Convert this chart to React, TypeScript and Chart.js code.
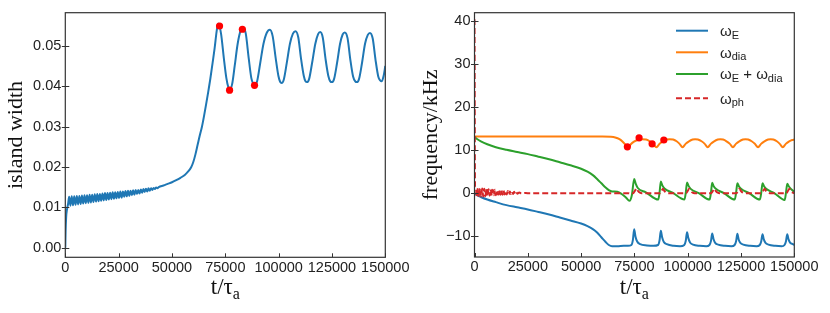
import React, { useEffect, useRef } from "react";
import { Chart, registerables } from "chart.js";

Chart.register(...registerables);

// ---------- axis ticks ----------
const X_TICKS = [0, 25000, 50000, 75000, 100000, 125000, 150000];
const WIDTH_TICKS = [0, 0.01, 0.02, 0.03, 0.04, 0.05];
const FREQ_TICKS = [-10, 0, 10, 20, 30, 40];

// ---------- left panel: island width ----------
const T_WIDTH = [
  0, 150, 400, 800, 1300,
  1800, 2400, 3000, 3600, 4200, 4800, 5400, 6000, 6600, 7200, 7800, 8400, 9000, 9600,
  10200, 10800, 11400, 12000, 12600, 13200, 13800, 14400, 15000, 15600, 16200, 16800,
  17400, 18000, 18600, 19200, 19800, 20400, 21000, 21600, 22200, 22800, 23400, 24000,
  24600, 25200, 25800, 26400, 27000, 27600, 28200, 28800, 29400, 30000, 30600, 31200,
  31800, 32400, 33000, 33600, 34200, 34800, 35400, 36000, 36600, 37200, 37800, 38400,
  39000, 39600, 40200, 40800, 41400, 42000, 42600, 43200, 43800,
  46000, 48000, 50000, 52000, 54000, 56000, 57500, 59000, 60000, 61000, 62000, 63000,
  64000, 65000, 66000, 67000, 68000, 69000, 70000, 71000, 71700,
  73000, 74300, 75500, 76400, 77200, 78200, 79400, 80800, 82200, 83400,
  84600, 86000, 87200, 88100, 88900, 89900, 91300, 92900, 94500, 95900,
  97200, 98600, 99900, 100700, 101400, 102400, 103800, 105300, 106700, 107900,
  109200, 110500, 111800, 112600, 113300, 114300, 115700, 117200, 118500, 119500,
  120700, 122000, 123300, 124200, 125000, 126000, 127400, 128800, 130000, 131000,
  132300, 133600, 134900, 135900, 136700, 137700, 139100, 140500, 141800, 142800,
  144100, 145400, 146700, 147600, 148300, 149200, 150000,
];
const WIDTH = [
  0.0, 0.004, 0.0075, 0.0095, 0.0108,
  0.0126, 0.0104, 0.0127, 0.0105, 0.0127, 0.0106, 0.0128, 0.0107, 0.0128, 0.0108, 0.0129, 0.0109, 0.0130, 0.0110,
  0.0130, 0.0111, 0.0131, 0.0112, 0.0131, 0.0113, 0.0132, 0.0114, 0.0133, 0.0115, 0.0133, 0.0116,
  0.0134, 0.0117, 0.0135, 0.0118, 0.0135, 0.0119, 0.0136, 0.0120, 0.0137, 0.0121, 0.0137, 0.0122,
  0.0138, 0.0123, 0.0139, 0.0124, 0.0139, 0.0126, 0.0140, 0.0127, 0.0141, 0.0128, 0.0141, 0.0130,
  0.0142, 0.0131, 0.0143, 0.0133, 0.0143, 0.0134, 0.0144, 0.0136, 0.0145, 0.0138, 0.0146, 0.0139,
  0.0147, 0.0141, 0.0147, 0.0143, 0.0148, 0.0145, 0.0149, 0.0147, 0.0150,
  0.0154, 0.0158, 0.0162, 0.0167, 0.0173, 0.0180, 0.0188, 0.0199, 0.0212, 0.0231, 0.0254, 0.0277,
  0.0298, 0.0325, 0.0355, 0.0386, 0.0419, 0.0456, 0.0494, 0.0538, 0.0555,
  0.0530, 0.0470, 0.0420, 0.0398, 0.0392, 0.0405, 0.0450, 0.0505, 0.0538, 0.0545,
  0.0530, 0.0468, 0.0420, 0.0406, 0.0403, 0.0412, 0.0455, 0.0505, 0.0533, 0.0540,
  0.0524, 0.0470, 0.0425, 0.0411, 0.0408, 0.0416, 0.0457, 0.0505, 0.0530, 0.0536,
  0.0521, 0.0468, 0.0425, 0.0412, 0.0410, 0.0418, 0.0458, 0.0505, 0.0529, 0.0534,
  0.0520, 0.0467, 0.0425, 0.0412, 0.0410, 0.0418, 0.0458, 0.0505, 0.0528, 0.0533,
  0.0519, 0.0466, 0.0424, 0.0412, 0.0410, 0.0418, 0.0458, 0.0505, 0.0527, 0.0532,
  0.0518, 0.0466, 0.0424, 0.0414, 0.0412, 0.0425, 0.0450,
];
const T_WIDTH_DOTS = [72300, 77000, 83000, 88700];
const WIDTH_DOTS = [0.0549, 0.039, 0.0541, 0.0402];

// ---------- right panel: frequencies (kHz) ----------
const T_OMEGA_E = [
  0, 1000, 3000, 6000, 10000, 15000, 20000, 25000, 30000, 35000, 40000, 45000, 50000,
  53000, 55500, 57500, 59500, 61500, 63000, 64500, 67000, 70000, 72000,
  73600, 74300, 74900, 75500, 76300, 77700, 80900, 83900,
  86100, 86800, 87400, 88000, 88800, 90200, 93400, 96400,
  98400, 99100, 99700, 100300, 101100, 102500, 105700, 108700,
  110200, 110900, 111500, 112100, 112900, 114300, 117500, 120500,
  122000, 122700, 123300, 123900, 124700, 126100, 129300, 132300,
  133800, 134500, 135100, 135700, 136500, 137900, 141100, 144100,
  145400, 146100, 146700, 147300, 148100, 149300, 150000,
];
const OMEGA_E = [
  -0.1, -0.5, -1.0, -1.6, -2.2, -2.9, -3.4, -3.9, -4.5, -5.1, -5.8, -6.5, -7.2,
  -7.8, -8.5, -9.3, -10.4, -11.5, -12.2, -12.5, -12.5, -12.4, -12.4,
  -12.2, -11.0, -8.5, -10.2, -11.4, -12.0, -12.3, -12.4,
  -12.2, -11.1, -8.9, -10.4, -11.5, -12.0, -12.4, -12.5,
  -12.2, -11.2, -9.2, -10.6, -11.6, -12.1, -12.4, -12.5,
  -12.2, -11.3, -9.5, -10.8, -11.7, -12.1, -12.4, -12.5,
  -12.2, -11.3, -9.6, -10.9, -11.7, -12.1, -12.4, -12.5,
  -12.2, -11.3, -9.7, -10.9, -11.7, -12.1, -12.4, -12.5,
  -12.2, -11.3, -9.7, -10.9, -11.7, -12.0, -12.2,
];

const T_OMEGA_DIA = [
  0, 60000, 64000, 66000, 68000, 69500, 70800, 72000, 73300, 74800, 76500, 78500,
  80500, 82200, 83800, 85300, 86800, 88400, 90200, 91500, 93200, 94800, 96200,
  97600, 99000, 100600, 102300, 103500, 104800, 106500, 108000, 109400, 110800,
  112400, 114100, 115300, 116600, 118200, 119800, 121200, 122600, 124200, 125900,
  127100, 128400, 130000, 131500, 133000, 134400, 136000, 137700, 138900, 140200,
  141800, 143200, 144600, 146000, 147600, 149000, 150000,
];
const OMEGA_DIA = [
  13.1, 13.1, 13.05, 12.9, 12.5, 11.9, 11.2, 10.5, 11.3, 11.9, 12.3, 12.5,
  12.4, 12.0, 11.4, 10.6, 11.4, 12.0, 12.4, 12.5, 12.4, 12.0, 11.4,
  10.6, 11.4, 12.0, 12.4, 12.5, 12.4, 12.0, 11.4, 10.6, 11.4,
  12.0, 12.4, 12.5, 12.4, 12.0, 11.4, 10.6, 11.4, 12.0, 12.4,
  12.5, 12.4, 12.0, 11.4, 10.6, 11.4, 12.0, 12.4, 12.5, 12.4,
  12.0, 11.4, 10.6, 11.4, 12.0, 12.3, 12.4,
];

const T_OMEGA_SUM = [
  0, 1000, 3000, 6000, 10000, 15000, 20000, 25000, 30000, 35000, 40000, 45000, 50000,
  53000, 55500, 57500, 59500, 61500, 63000, 64500, 67000, 69000, 71000,
  72700, 73800, 74900, 75600, 76600, 80400, 86200,
  86800, 87400, 88100, 89100, 92900, 98500,
  99100, 99700, 100400, 101400, 105200, 110300,
  110900, 111500, 112200, 113200, 117000, 122100,
  122700, 123300, 124000, 125000, 128800, 133900,
  134500, 135100, 135800, 136800, 140600, 145500,
  146100, 146700, 147400, 148400, 150000,
];
const OMEGA_SUM = [
  13.0, 12.6, 12.0, 11.3, 10.6, 10.0, 9.5, 9.0, 8.4, 7.8, 7.1, 6.4, 5.6,
  4.9, 4.1, 3.2, 2.2, 1.2, 0.6, 0.3, 0.2, -0.3, -1.1,
  -1.9, -0.6, 3.2, 2.1, 1.1, 0.1, -1.6,
  0.0, 2.6, 1.7, 1.0, 0.0, -1.6,
  0.0, 2.4, 1.6, 0.9, -0.1, -1.6,
  0.0, 2.3, 1.5, 0.9, -0.1, -1.6,
  0.0, 2.2, 1.5, 0.9, -0.1, -1.6,
  0.0, 2.2, 1.5, 0.9, -0.1, -1.7,
  0.0, 2.1, 1.5, 0.9, 0.2,
];

const T_OMEGA_PH = [
  0, 250,
  600, 1100, 1600, 2100, 2600, 3100, 3600, 4100, 4600, 5100, 5600, 6100, 6600, 7100,
  7600, 8100, 8600, 9100, 9600, 10100, 10600, 11100, 11600, 12100, 12600, 13100,
  13600, 14100, 14600, 15100, 15600, 16100, 16600, 17100, 17600, 18100, 18600, 19100,
  19600, 20100, 21000, 22000, 24000, 26000, 30000, 72000,
  73000, 74500, 75300, 76000, 76700, 77600, 78500,
  87000, 87700, 88400, 89100, 90000, 90900,
  99300, 100000, 100700, 101400, 102300, 103200,
  111100, 111800, 112500, 113200, 114100, 115000,
  122900, 123600, 124300, 125000, 125900, 126800,
  134700, 135400, 136100, 136800, 137700, 138600,
  146300, 147000, 147700, 148400, 149300, 150000,
];
const OMEGA_PH = [
  40.5, 1.5,
  1.3, -0.9, 1.1, -1.0, 1.0, -0.9, 1.0, -0.9, 0.9, -0.8, 0.9, -0.8, 0.8, -0.7,
  0.8, -0.7, 0.7, -0.6, 0.7, -0.6, 0.6, -0.5, 0.6, -0.5, 0.5, -0.5,
  0.5, -0.4, 0.4, -0.4, 0.4, -0.35, 0.3, -0.3, 0.25, -0.3, 0.2, -0.25,
  0.15, -0.25, 0.05, -0.15, -0.05, -0.15, -0.1, -0.1,
  -0.25, -0.1, 0.5, 1.0, 0.4, 0.0, -0.1,
  -0.1, 0.4, 0.9, 0.4, 0.0, -0.1,
  -0.1, 0.4, 0.9, 0.4, 0.0, -0.1,
  -0.1, 0.4, 0.9, 0.4, 0.0, -0.1,
  -0.1, 0.4, 0.9, 0.4, 0.0, -0.1,
  -0.1, 0.4, 0.9, 0.4, 0.0, -0.1,
  -0.1, 0.4, 0.9, 0.4, 0.0, -0.1,
];

const T_FREQ_DOTS = [71700, 77200, 83300, 88800];
const FREQ_DOTS = [10.7, 12.8, 11.4, 12.3];

// ---------- styling ----------
const SANS = "'Liberation Sans', Arial, sans-serif";
const SERIF = "'Liberation Serif', 'Times New Roman', serif";
const TEXT = "#222222";
const AXIS = "#333333";
const BLUE = "#1f77b4";
const ORANGE = "#ff7f0e";
const GREEN = "#2ca02c";
const RED = "#d62728";
const DOT = "#ff0000";

type Part = { t: string; sub?: boolean };

function zip(xs: number[], ys: number[]) {
  return xs.map((x, i) => ({ x, y: ys[i] }));
}

function drawRich(
  ctx: CanvasRenderingContext2D,
  parts: Part[],
  x: number,
  y: number,
  size: number,
  subSize: number,
  family: string,
  align: "left" | "center",
  subDrop: number
) {
  const fonts = parts.map((p) => `${p.sub ? subSize : size}px ${family}`);
  const widths = parts.map((p, i) => {
    ctx.font = fonts[i];
    return ctx.measureText(p.t).width;
  });
  const total = widths.reduce((a, b) => a + b, 0);
  let cx = align === "center" ? x - total / 2 : x;
  ctx.textAlign = "left";
  ctx.textBaseline = "alphabetic";
  parts.forEach((p, i) => {
    ctx.font = fonts[i];
    ctx.fillText(p.t, cx, p.sub ? y + subDrop : y);
    cx += widths[i];
  });
}

type LegendItem = { color: string; dash: number[]; parts: Part[]; y: number };

const LEGEND: LegendItem[] = [
  { color: BLUE, dash: [], parts: [{ t: "ω" }, { t: "E", sub: true }], y: 30.7 },
  { color: ORANGE, dash: [], parts: [{ t: "ω" }, { t: "dia", sub: true }], y: 52.3 },
  {
    color: GREEN,
    dash: [],
    parts: [{ t: "ω" }, { t: "E", sub: true }, { t: " + ω" }, { t: "dia", sub: true }],
    y: 74,
  },
  { color: RED, dash: [6, 3], parts: [{ t: "ω" }, { t: "ph", sub: true }], y: 98.3 },
];

function framePlugin(yTitle: string, withLegend: boolean) {
  return {
    id: "frame",
    afterDraw(chart: any) {
      const { ctx, chartArea: a, scales } = chart;
      ctx.save();
      ctx.strokeStyle = AXIS;
      ctx.lineWidth = 1.2;
      ctx.setLineDash([]);
      ctx.strokeRect(a.left, a.top, a.right - a.left, a.bottom - a.top);
      ctx.lineWidth = 1;
      ctx.beginPath();
      for (const t of scales.x.ticks) {
        const px = Math.round(scales.x.getPixelForValue(t.value)) + 0.5;
        ctx.moveTo(px, a.bottom);
        ctx.lineTo(px, a.bottom - 4);
      }
      for (const t of scales.y.ticks) {
        const py = Math.round(scales.y.getPixelForValue(t.value)) + 0.5;
        ctx.moveTo(a.left - 3.5, py);
        ctx.lineTo(a.left + 4, py);
      }
      ctx.stroke();

      // axis titles
      ctx.fillStyle = "#111111";
      drawRich(
        ctx,
        [{ t: "t/τ" }, { t: "a", sub: true }],
        (a.left + a.right) / 2,
        294,
        23,
        16,
        SERIF,
        "center",
        5
      );
      ctx.save();
      ctx.translate(16.5, (a.top + a.bottom) / 2);
      ctx.rotate(-Math.PI / 2);
      ctx.font = `22px ${SERIF}`;
      ctx.textAlign = "center";
      ctx.textBaseline = "middle";
      ctx.fillText(yTitle, 0, 0);
      ctx.restore();

      if (withLegend) {
        for (const item of LEGEND) {
          ctx.strokeStyle = item.color;
          ctx.lineWidth = 2;
          ctx.setLineDash(item.dash);
          ctx.beginPath();
          ctx.moveTo(261, item.y);
          ctx.lineTo(293, item.y);
          ctx.stroke();
          ctx.setLineDash([]);
          ctx.fillStyle = TEXT;
          drawRich(ctx, item.parts, 305, item.y + 5.3, 15, 11, SANS, "left", 2.5);
        }
      }
      ctx.restore();
    },
  };
}

function xScale(height: number) {
  return {
    type: "linear",
    min: 0,
    max: 150000,
    grid: { display: false, drawTicks: false },
    border: { display: false },
    afterBuildTicks: (s: any) => {
      s.ticks = X_TICKS.map((v) => ({ value: v }));
    },
    afterFit: (s: any) => {
      s.height = height;
    },
    ticks: {
      autoSkip: false,
      maxRotation: 0,
      minRotation: 0,
      padding: 1.5,
      color: TEXT,
      font: { family: SANS, size: 14.5 },
      callback: (v: any) => String(v),
    },
  };
}

function yScale(
  min: number,
  max: number,
  ticks: number[],
  width: number,
  fmt: (v: number) => string
) {
  return {
    type: "linear",
    min,
    max,
    grid: { display: false, drawTicks: false },
    border: { display: false },
    afterBuildTicks: (s: any) => {
      s.ticks = ticks.map((v) => ({ value: v }));
    },
    afterFit: (s: any) => {
      s.width = width;
    },
    ticks: {
      padding: 4,
      color: TEXT,
      font: { family: SANS, size: 14.5 },
      callback: (v: any) => fmt(Number(v)),
    },
  };
}

function lineDs(xs: number[], ys: number[], color: string, dash: number[] = []) {
  return {
    type: "line",
    data: zip(xs, ys),
    borderColor: color,
    backgroundColor: color,
    borderWidth: 2,
    borderDash: dash,
    pointRadius: 0,
    fill: false,
    cubicInterpolationMode: "monotone",
  };
}

function dotDs(xs: number[], ys: number[]) {
  return {
    type: "scatter",
    data: zip(xs, ys),
    pointRadius: 3.6,
    backgroundColor: DOT,
    borderWidth: 0,
    showLine: false,
  };
}

export default function App() {
  const leftRef = useRef<HTMLCanvasElement>(null);
  const rightRef = useRef<HTMLCanvasElement>(null);

  useEffect(() => {
    const left = new Chart(leftRef.current as HTMLCanvasElement, {
      type: "line",
      data: {
        datasets: [dotDs(T_WIDTH_DOTS, WIDTH_DOTS), lineDs(T_WIDTH, WIDTH, BLUE)] as any,
      },
      options: {
        animation: false,
        responsive: false,
        events: [],
        layout: { padding: { top: 11.3, right: 29.7, left: 0, bottom: 0 } },
        plugins: { legend: { display: false }, tooltip: { enabled: false } },
        scales: {
          x: xScale(55.7) as any,
          y: yScale(-0.0024, 0.0582, WIDTH_TICKS, 65.3, (v) => v.toFixed(2)) as any,
        },
      },
      plugins: [framePlugin("island width", false)],
    });

    const right = new Chart(rightRef.current as HTMLCanvasElement, {
      type: "line",
      data: {
        datasets: [
          dotDs(T_FREQ_DOTS, FREQ_DOTS),
          lineDs(T_OMEGA_PH, OMEGA_PH, RED, [6, 3]),
          lineDs(T_OMEGA_SUM, OMEGA_SUM, GREEN),
          lineDs(T_OMEGA_DIA, OMEGA_DIA, ORANGE),
          lineDs(T_OMEGA_E, OMEGA_E, BLUE),
        ] as any,
      },
      options: {
        animation: false,
        responsive: false,
        events: [],
        layout: { padding: { top: 11, right: 35.7, left: 0, bottom: 0 } },
        plugins: { legend: { display: false }, tooltip: { enabled: false } },
        scales: {
          x: xScale(56) as any,
          y: yScale(-15, 42, FREQ_TICKS, 59.5, (v) =>
            v < 0 ? "\u2212" + Math.abs(v) : String(v)
          ) as any,
        },
      },
      plugins: [framePlugin("frequency/kHz", true)],
    });

    return () => {
      left.destroy();
      right.destroy();
    };
  }, []);

  return (
    <div
      style={{
        position: "absolute",
        left: 0,
        top: 0,
        width: 830,
        height: 313,
        background: "#ffffff",
      }}
    >
      <canvas
        ref={leftRef}
        width={415}
        height={313}
        style={{ position: "absolute", left: 0, top: 0, width: 415, height: 313 }}
      />
      <canvas
        ref={rightRef}
        width={415}
        height={313}
        style={{ position: "absolute", left: 415, top: 0, width: 415, height: 313 }}
      />
    </div>
  );
}
